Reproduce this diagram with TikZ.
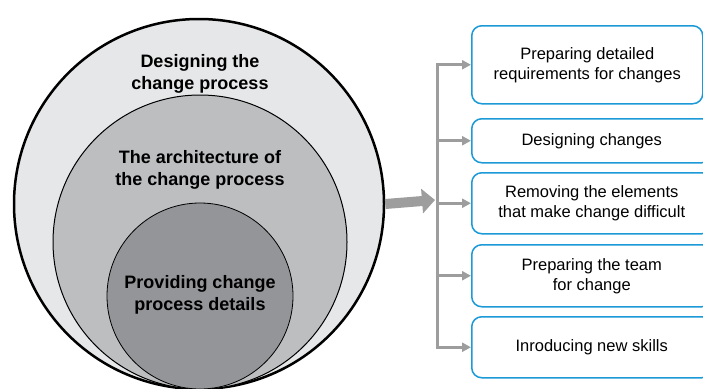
\documentclass[tikz,border=0pt]{standalone}
\usepackage{fontspec}
\setmainfont{Liberation Sans}
\usetikzlibrary{arrows.meta}
\definecolor{ringlight}{HTML}{E6E7E8}
\definecolor{ringmid}{HTML}{BCBEC0}
\definecolor{ringdark}{HTML}{939598}
\definecolor{flowgray}{HTML}{9D9D9D}
\definecolor{boxblue}{HTML}{1B9AD7}

\begin{document}
\begin{tikzpicture}[x=1pt,y=-1pt]
\tikzstyle{ring}=[draw,circle,inner sep=0pt]
\tikzstyle{stage}=[align=center,font=\bfseries\fontsize{18}{21.5}\selectfont]
\tikzstyle{task}=[draw=boxblue,line width=1.5pt,rounded corners=10pt,anchor=north west,
  align=center,font=\fontsize{16.5}{20}\selectfont]
\tikzstyle{branch}=[draw=flowgray,line width=3pt,-{Triangle[length=9pt,width=9pt]}]
\useasboundingbox (0,0) rectangle (703,388);
% nested circles
\node [ring,fill=ringlight,line width=2.5pt,minimum size=370pt] (outer) at (199,204) {};
\node [ring,fill=ringmid,line width=1pt,minimum size=294pt] (middle) at (200,242) {};
\node [ring,fill=ringdark,line width=0.8pt,minimum size=186pt] (inner) at (200,296) {};
\node [stage] (design) at (200,74) {Designing the\\change process};
\node [stage] (arch) at (200,170) {The architecture of\\the change process};
\node [stage] (detail) at (200,295) {Providing change\\process details};
% tasks
\node [task,minimum width=231pt,minimum height=78pt] (prep) at (471,25) {Preparing detailed\\requirements for changes};
\node [task,minimum width=240pt,minimum height=44pt] (designch) at (471,118) {Designing changes};
\node [task,minimum width=240pt,minimum height=61pt] (remove) at (471,172) {Removing the elements\\that make change difficult};
\node [task,minimum width=240pt,minimum height=62pt] (team) at (471,244) {Preparing the team\\for change};
\node [task,minimum width=240pt,minimum height=61pt] (skills) at (471,316) {Inroducing new skills};
% connectors
\coordinate (bus) at (437,200);
\draw [flowgray,line width=10pt,-{Triangle[length=13pt,width=24pt]}] (outer.east) -- ([xshift=-2pt]bus);
\draw [flowgray,line width=3pt,line cap=rect] (prep.west -| bus) -- (skills.west -| bus);
\path [branch] (prep.west -| bus) -- (prep.west);
\path [branch] (designch.west -| bus) -- (designch.west);
\path [branch] (remove.west -| bus) -- (remove.west);
\path [branch] (team.west -| bus) -- (team.west);
\path [branch] (skills.west -| bus) -- (skills.west);
\end{tikzpicture}
\end{document}
